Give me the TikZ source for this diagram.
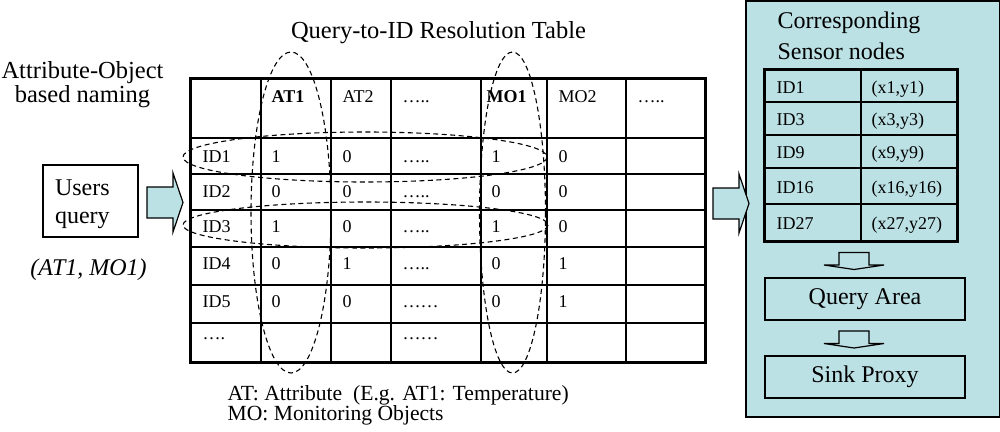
\documentclass[tikz,border=0pt]{standalone}
\usepackage{fontspec}
\setmainfont{Liberation Serif}
\usetikzlibrary{positioning,calc}
\definecolor{panelcyan}{RGB}{188,225,228}
\tikzset{
    tabcell/.style={font=\fontsize{18}{20}\selectfont, anchor=base west, inner sep=0pt},
    bigtext/.style={font=\fontsize{24}{28}\selectfont, inner sep=0pt},
    ring/.style={dashed, dash pattern=on 5pt off 3.5pt, line width=1.1pt},
    boxed/.style={draw, bigtext, minimum width=200, minimum height=42},
    rightblock/.pic={\draw[fill=panelcyan] (0,-15.5) -- (26,-15.5) -- (26,-29.5) -- (36,0) -- (26,29.5) -- (26,15.5) -- (0,15.5) -- cycle;},
    downblock/.pic={\draw (-15,0) -- (-15,12.5) -- (-30,12.5) -- (0,17) -- (30,12.5) -- (15,12.5) -- (15,0) -- cycle;}
}

\begin{document}
\begin{tikzpicture}[x=1pt, y=-1pt, line width=1.2pt]
    \useasboundingbox (0,0) rectangle (1000,431);

    % side panel
    \draw[fill=panelcyan] (746,1) rectangle (999.4,417);

    % labels on the left
    \node[bigtext, align=center, anchor=base, font=\fontsize{24.5}{23.5}\selectfont] (naming) at (82.5,102) {Attribute-Object\\based naming};
    \node[draw, bigtext, text width=71, inner xsep=12, minimum height=72, align=left] (users) at (90.5,201) {\rule{0pt}{23pt}Users\\query};
    \node[bigtext, anchor=base] (pair) at (88.5,275) {\itshape (AT1, MO1)};
    \pic at (147,202.5) {rightblock};

    % resolution table
    \node[bigtext, anchor=base, font=\fontsize{24.5}{28}\selectfont] (title) at (438.5,38) {Query-to-ID Resolution Table};
    \foreach \x in {261,331,391,481,547,626} \draw (\x,78) -- (\x,362);
    \foreach \y in {138,174,210,247,285,323} \draw (190,\y) -- (705,\y);
    \draw[line width=3pt] (190,78) rectangle (705,362);

    \node[tabcell] (at1) at (271,102) {\bfseries AT1};
    \node[tabcell] (at2) at (342,102) {AT2};
    \node[tabcell] (atx) at (402,102) {…..};
    \node[tabcell] (mo1) at (486,102) {\bfseries MO1};
    \node[tabcell] (mo2) at (558,102) {MO2};
    \node[tabcell] (mox) at (637,102) {…..};

    \foreach \y/\id/\a/\b/\c/\d/\e [count=\r] in {
        162/ID1/1/0/…../1/0,
        197/ID2/0/0/…../0/0,
        232/ID3/1/0/…../1/0,
        269/ID4/0/1/…../0/1,
        307/ID5/0/0/……/0/1,
        339/…./{}/{}/……/{}/{}}
    {
        \node[tabcell] (r\r-id) at (202,\y) {\id};
        \node[tabcell] (r\r-a) at (271,\y) {\a};
        \node[tabcell] (r\r-b) at (342,\y) {\b};
        \node[tabcell] (r\r-c) at (402,\y) {\c};
        \node[tabcell] (r\r-d) at (491,\y) {\d};
        \node[tabcell] (r\r-e) at (558,\y) {\e};
    }

    % selected rows and columns
    \draw[ring] (291,212.5) ellipse [x radius=40, y radius=160.5];
    \draw[ring] (512.5,212.5) ellipse [x radius=33, y radius=160.5];
    \draw[ring] (365,157) ellipse [x radius=182, y radius=25];
    \draw[ring] (365.5,225) ellipse [x radius=182.5, y radius=23];

    \node[anchor=base west, inner sep=0pt, font=\fontsize{21.6}{24}\selectfont] (legend-at) at (227,400) {AT: Attribute\ \ (E.g. AT1: Temperature)};
    \node[anchor=base west, inner sep=0pt, font=\fontsize{21.6}{24}\selectfont] (legend-mo) at (227,420) {MO: Monitoring Objects};

    \pic at (713,203.5) {rightblock};

    % sensor nodes
    \node[bigtext, anchor=base west] (corr) at (777,28) {Corresponding};
    \node[bigtext, anchor=base west] (sensor) at (777,59) {Sensor nodes};
    \draw (861,69) -- (861,241);
    \foreach \y in {102,135,168,204} \draw (764,\y) -- (957,\y);
    \draw[line width=3pt] (764,69) rectangle (957,241);
    \foreach \y/\id/\pos [count=\r] in {93/ID1/{(x1,y1)}, 125/ID3/{(x3,y3)}, 158/ID9/{(x9,y9)}, 193/ID16/{(x16,y16)}, 229/ID27/{(x27,y27)}}
    {
        \node[tabcell] (s\r-id) at (776,\y) {\id};
        \node[tabcell] (s\r-pos) at (871,\y) {\pos};
    }

    \pic at (854,252.5) {downblock};
    \node[boxed] (area) at (865,299) {Query Area};
    \pic at (854,331) {downblock};
    \node[boxed] (sink) at (865,377) {Sink Proxy};
\end{tikzpicture}
\end{document}
